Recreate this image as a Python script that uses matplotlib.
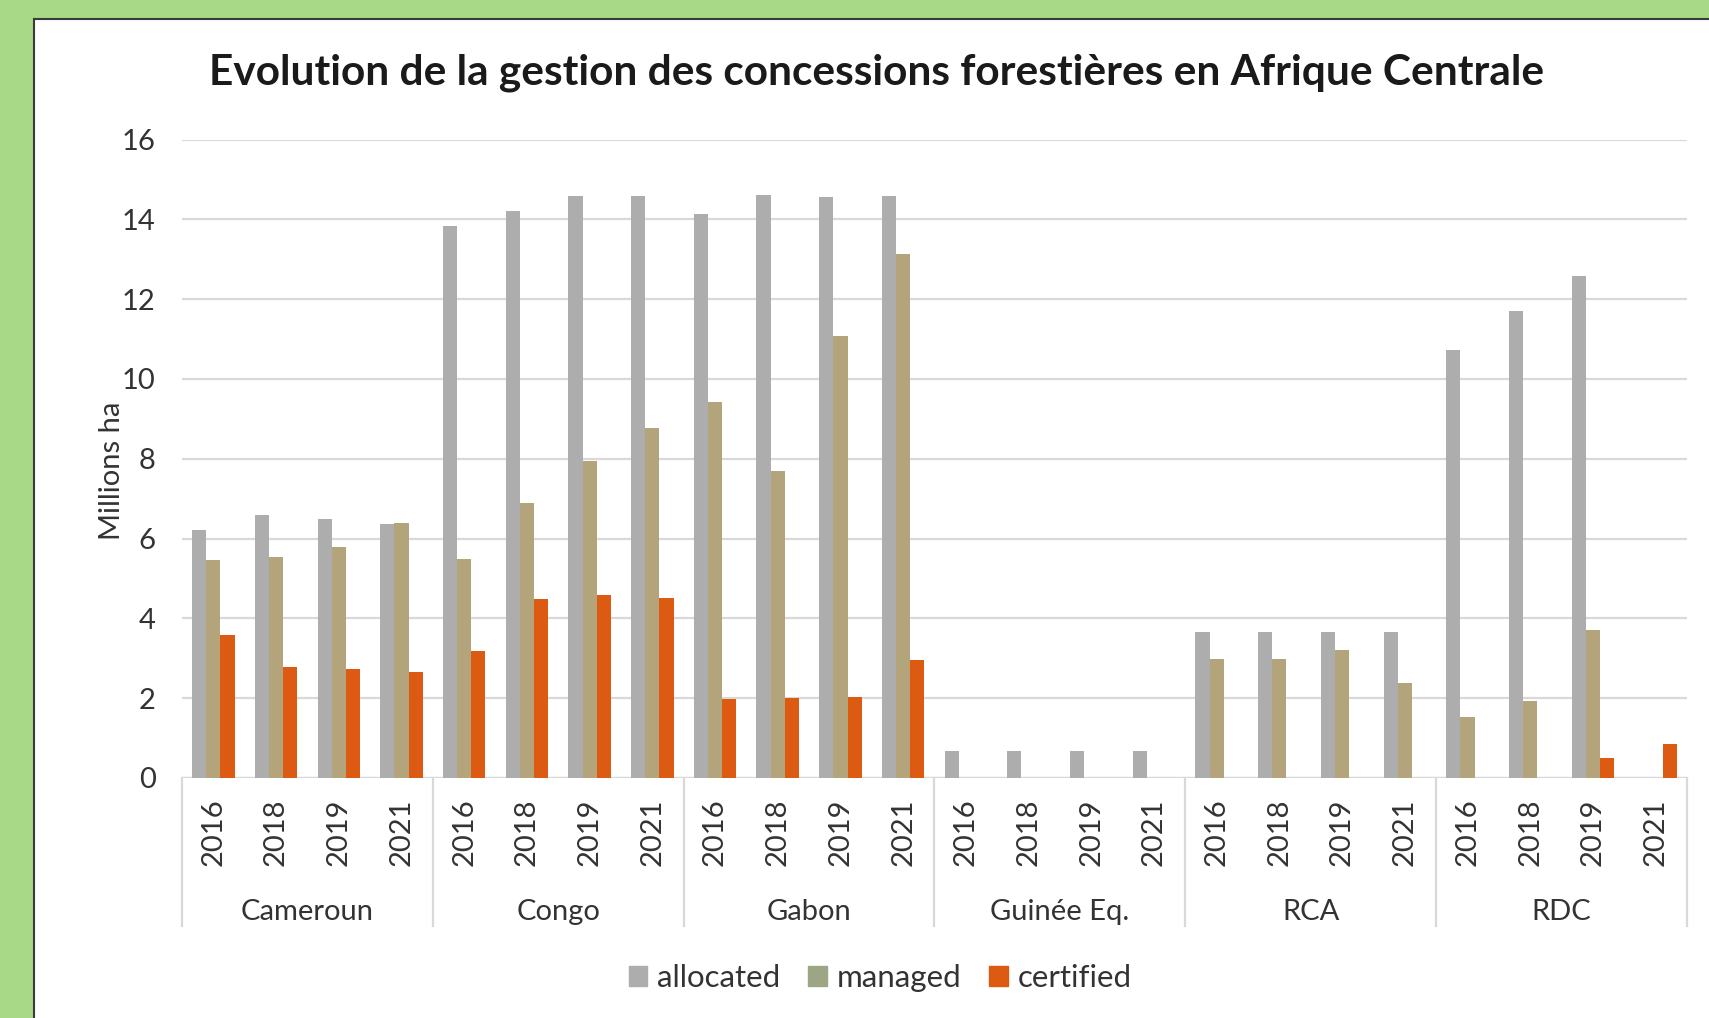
import numpy as np
import matplotlib
matplotlib.use('Agg')
import matplotlib.pyplot as plt
from matplotlib.patches import Rectangle, Patch
import matplotlib.transforms as mtrans

plt.rcParams['font.family'] = ['Lato', 'DejaVu Sans']

# data (millions ha)
countries = ['Cameroun', 'Congo', 'Gabon', 'Guinée Eq.', 'RCA', 'RDC']
years = ['2016', '2018', '2019', '2021']
allocated = [6.22, 6.6, 6.5, 6.36,
             13.84, 14.2, 14.58, 14.58,
             14.14, 14.6, 14.55, 14.58,
             0.68, 0.68, 0.68, 0.68,
             3.66, 3.66, 3.66, 3.66,
             10.73, 11.71, 12.59, 0.0]
managed = [5.46, 5.54, 5.79, 6.39,
           5.49, 6.9, 7.95, 8.76,
           9.42, 7.7, 11.08, 13.13,
           0.0, 0.0, 0.0, 0.0,
           2.98, 2.98, 3.2, 2.38,
           1.53, 1.94, 3.71, 0.0]
certified = [3.58, 2.78, 2.73, 2.65,
             3.17, 4.48, 4.59, 4.5,
             1.97, 2.0, 2.02, 2.95,
             0.0, 0.0, 0.0, 0.0,
             0.0, 0.0, 0.0, 0.0,
             0.0, 0.0, 0.49, 0.85]
series_names = ['allocated', 'managed', 'certified']

c_alloc = '#ADADAD'
c_man = '#B4A47C'
c_cert = '#DD5A12'
c_man_legend = '#9DA684'
txt = '#333333'

W, H = 1709, 1018
fig = plt.figure(figsize=(W / 100, H / 100), dpi=100)
fig.patch.set_facecolor('#A8D987')

# white panel with dark border on left/top
panel = Rectangle((34 / W, -0.01), 1.02, 1 - 19 / H + 0.01, transform=fig.transFigure,
                  facecolor='white', edgecolor='#3a3a3a', linewidth=1.5, zorder=-5)
fig.patches.append(panel)

ax = fig.add_axes([182 / W, 1 - 778 / H, (1687 - 182) / W, (778 - 139.5) / H])
ax.set_facecolor('none')

n = len(allocated)
x = np.arange(n)
bw = 0.226
ax.bar(x - bw, allocated, bw, color=c_alloc, zorder=3)
ax.bar(x, managed, bw, color=c_man, zorder=3)
ax.bar(x + bw, certified, bw, color=c_cert, zorder=3)

ax.set_xlim(-0.5, n - 0.5)
ax.set_ylim(0, 16)
ax.set_yticks(np.arange(0, 17, 2))
ax.tick_params(axis='y', length=0, pad=19, labelsize=21, labelcolor=txt)
ax.set_xticks([])
ax.grid(axis='y', color='#D9D9D9', linewidth=1.6, zorder=0)
for s in ax.spines.values():
    s.set_visible(False)
ax.axhline(0, color='#D9D9D9', linewidth=1.6, zorder=2)

# multi-level category axis
trans = mtrans.blended_transform_factory(ax.transData, fig.transFigure)
for i in range(n):
    ax.text(i, 1 - 832 / H, years[i % 4], transform=trans, rotation=90,
            ha='center', va='center', fontsize=21, color=txt)
for g, name in enumerate(countries):
    ax.text(g * 4 + 1.5, 1 - 912 / H, name, transform=trans,
            ha='center', va='center', fontsize=21, color=txt)
for b in range(len(countries) + 1):
    xb = b * 4 - 0.5
    ax.plot([xb, xb], [1 - 778 / H, 1 - 926 / H], transform=trans,
            color='#D9D9D9', linewidth=1.6, clip_on=False)

fig.text(112 / W, 1 - 471 / H, 'Millions ha', rotation=90, ha='center', va='center',
         fontsize=21, color=txt)
fig.text(877 / W, 1 - 73 / H,
         'Evolution de la gestion des concessions forestières en Afrique Centrale',
         ha='center', va='center', fontsize=30.5, fontweight='bold', color='#1a1a1a')

handles = [Patch(color=c_alloc), Patch(color=c_man_legend), Patch(color=c_cert)]
fig.legend(handles, series_names, loc='center', bbox_to_anchor=(880 / W, 1 - 978 / H),
           ncol=3, frameon=False, fontsize=22.5, handlelength=0.6, handleheight=0.6,
           handletextpad=0.3, columnspacing=0.9, labelcolor=txt)

fig.savefig('out.png', dpi=100, facecolor=fig.get_facecolor())
